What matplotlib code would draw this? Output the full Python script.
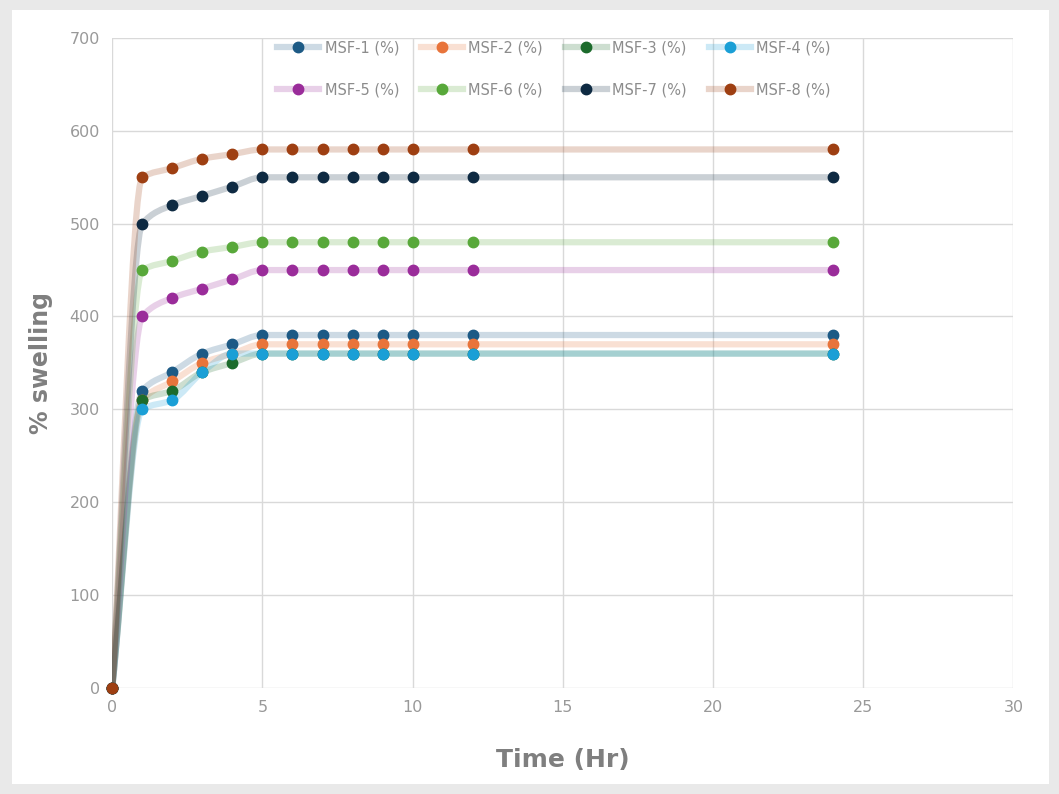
import numpy as np
import matplotlib.pyplot as plt
from matplotlib.path import Path
from matplotlib.patches import PathPatch, Rectangle
from matplotlib.lines import Line2D

# Datos
tiempo = [0, 1, 2, 3, 4, 5, 6, 7, 8, 9, 10, 12, 24]
msf1 = [0, 320, 340, 360, 370, 380, 380, 380, 380, 380, 380, 380, 380]
msf2 = [0, 310, 330, 350, 360, 370, 370, 370, 370, 370, 370, 370, 370]
msf3 = [0, 310, 320, 340, 350, 360, 360, 360, 360, 360, 360, 360, 360]
msf4 = [0, 300, 310, 340, 360, 360, 360, 360, 360, 360, 360, 360, 360]
msf5 = [0, 400, 420, 430, 440, 450, 450, 450, 450, 450, 450, 450, 450]
msf6 = [0, 450, 460, 470, 475, 480, 480, 480, 480, 480, 480, 480, 480]
msf7 = [0, 500, 520, 530, 540, 550, 550, 550, 550, 550, 550, 550, 550]
msf8 = [0, 550, 560, 570, 575, 580, 580, 580, 580, 580, 580, 580, 580]

nombres = ['MSF-1 (%)', 'MSF-2 (%)', 'MSF-3 (%)', 'MSF-4 (%)',
           'MSF-5 (%)', 'MSF-6 (%)', 'MSF-7 (%)', 'MSF-8 (%)']
series = [msf1, msf2, msf3, msf4, msf5, msf6, msf7, msf8]
colores = ['#1d5a85', '#e8743b', '#1c6b2c', '#1a9fd6',
           '#9a2c9a', '#58a83a', '#0e2a42', '#9e3f12']


# Curva suave (tangentes monotonas de Fritsch-Carlson, en forma Bezier)
def curva_suave(x, y):
    x = np.asarray(x, float)
    y = np.asarray(y, float)
    h = np.diff(x)
    d = np.diff(y) / h
    m = np.zeros_like(y)
    m[0], m[-1] = d[0], d[-1]
    for i in range(1, len(x) - 1):
        if d[i - 1] * d[i] > 0:
            w1 = 2 * h[i] + h[i - 1]
            w2 = h[i] + 2 * h[i - 1]
            m[i] = (w1 + w2) / (w1 / d[i - 1] + w2 / d[i])
    verts = [(x[0], y[0])]
    codes = [Path.MOVETO]
    for i in range(len(x) - 1):
        verts += [(x[i] + h[i] / 3, y[i] + m[i] * h[i] / 3),
                  (x[i + 1] - h[i] / 3, y[i + 1] - m[i + 1] * h[i] / 3),
                  (x[i + 1], y[i + 1])]
        codes += [Path.CURVE4] * 3
    return Path(verts, codes)


fig = plt.figure(figsize=(10.59, 7.94), dpi=100, facecolor='#e9e9e9')
fig.add_artist(Rectangle((0.011, 0.012), 0.98, 0.975, transform=fig.transFigure,
                         facecolor='white', edgecolor='none', zorder=-5))
ax = fig.add_axes([0.106, 0.134, 0.851, 0.818])
ax.set_facecolor('white')

for y, c in zip(series, colores):
    ax.add_patch(PathPatch(curva_suave(tiempo, y), facecolor='none',
                           edgecolor=c, lw=4.5, alpha=0.22, zorder=2))
    ax.plot(tiempo, y, ls='none', marker='o', ms=7.5, color=c, zorder=3, clip_on=False)

ax.set_xlim(0, 30)
ax.set_ylim(0, 700)
ax.set_xticks(range(0, 31, 5))
ax.set_yticks(range(0, 701, 100))
ax.grid(True, color='#d9d9d9', lw=1)
ax.set_axisbelow(True)
for s in ax.spines.values():
    s.set_visible(False)
ax.tick_params(length=0, colors='#999999', labelsize=11.5, pad=9)

ax.set_xlabel('Time (Hr)', fontsize=18, fontweight='bold', color='#7f7f7f', labelpad=24)
ax.set_ylabel('% swelling', fontsize=17, fontweight='bold', color='#7f7f7f', labelpad=12)

handles = [(Line2D([0], [0], color=c, lw=4.5, alpha=0.22),
            Line2D([0], [0], ls='none', marker='o', ms=7.5, color=c)) for c in colores]
orden = [0, 4, 1, 5, 2, 6, 3, 7]  # para que las filas queden MSF-1..4 y MSF-5..8
ax.legend([handles[i] for i in orden], [nombres[i] for i in orden], ncol=4,
          loc='upper center', bbox_to_anchor=(0.49, 1.017), frameon=False,
          fontsize=10.5, labelcolor='#8c8c8c', handlelength=2.9,
          columnspacing=1.5, handletextpad=0.35, labelspacing=1.85)

fig.savefig('out.png', dpi=100, facecolor=fig.get_facecolor())
